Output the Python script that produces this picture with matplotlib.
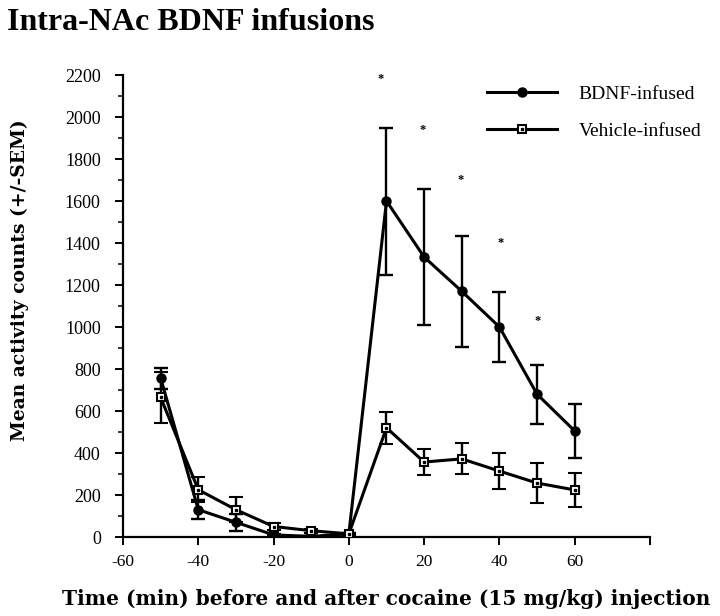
import matplotlib
matplotlib.use("Agg")
import matplotlib.pyplot as plt
from matplotlib.ticker import MultipleLocator, FixedLocator
from matplotlib.lines import Line2D
from matplotlib.legend_handler import HandlerTuple

# ------------------------------
# data
# ------------------------------
time_min = [-50, -40, -30, -20, -10, 0, 10, 20, 30, 40, 50, 60]

bdnf_mean = [757, 130, 70, 10, 3, 15, 1600, 1333, 1170, 1000, 680, 505]
bdnf_sem = [50, 45, 40, 5, 3, 5, 350, 325, 265, 165, 140, 130]

veh_mean = [665, 225, 130, 50, 30, 15, 520, 357, 372, 314, 257, 224]
veh_sem = [120, 60, 60, 15, 10, 5, 76, 62, 74, 85, 95, 83]

# significance stars
star_x = [8.5, 19.5, 29.6, 40.2, 50.1]
star_y = [2180, 1940, 1700, 1400, 1030]

x_ticks = [-60, -40, -20, 0, 20, 40, 60, 80]
x_labels = ["-60", "-40", "-20", "0", "20", "40", "60", ""]

# ------------------------------
# figure
# ------------------------------
fig = plt.figure(figsize=(7.2, 6.16), dpi=100)
ax = fig.add_axes([123 / 720, 1 - 537 / 616, (650 - 123) / 720, (537 - 75) / 616])

lw = 2.2
ax.errorbar(time_min, bdnf_mean, yerr=bdnf_sem, color="black", lw=lw,
            marker="o", ms=6.5, mfc="black", mec="black",
            ecolor="black", elinewidth=1.7, capsize=5, capthick=1.7, zorder=3)
ax.errorbar(time_min, veh_mean, yerr=veh_sem, color="black", lw=lw,
            marker="s", ms=6, mfc="white", mec="black", mew=1.5,
            ecolor="black", elinewidth=1.7, capsize=5, capthick=1.7, zorder=4)
# little dot inside the open squares
ax.plot(time_min, veh_mean, ls="none", marker="s", ms=1.6, color="black", zorder=5)

for sx, sy in zip(star_x, star_y):
    ax.text(sx, sy, "*", ha="center", va="center", fontsize=9,
            family="Liberation Serif", fontweight="bold")

ax.set_xlim(-60, 80)
ax.set_ylim(0, 2200)
ax.xaxis.set_major_locator(FixedLocator(x_ticks))
ax.set_xticklabels(x_labels)
ax.yaxis.set_major_locator(MultipleLocator(200))
ax.yaxis.set_minor_locator(MultipleLocator(100))

for side in ["top", "right"]:
    ax.spines[side].set_visible(False)
for side in ["left", "bottom"]:
    ax.spines[side].set_linewidth(1.6)

ax.tick_params(axis="both", which="major", direction="out", length=6, width=1.4)
ax.tick_params(axis="y", which="minor", direction="out", length=3.5, width=1.1)
ax.tick_params(axis="y", labelsize=13, pad=10)
ax.tick_params(axis="x", labelsize=12.5, pad=6)
for lab in ax.get_xticklabels() + ax.get_yticklabels():
    lab.set_family("Liberation Serif")

ax.set_xlabel("Time (min) before and after cocaine (15 mg/kg) injection",
              family="DejaVu Serif", fontweight="bold", fontsize=14.5, labelpad=14)
ax.set_ylabel("Mean activity counts (+/-SEM)", family="DejaVu Serif",
              fontweight="bold", fontsize=13.5)
ax.yaxis.set_label_coords((29 - 123) / 527, (537 - 280) / 462)

fig.text(7 / 720, 1 - 8 / 616, "Intra-NAc BDNF infusions", ha="left", va="top",
         family="Liberation Serif", fontweight="bold", fontsize=23)

# legend: line + marker only
h_bdnf = Line2D([], [], color="black", lw=lw, marker="o", ms=6.5)
h_veh = Line2D([], [], color="black", lw=lw, marker="s", ms=6, mfc="white", mew=1.5)
h_dot = Line2D([], [], ls="none", marker="s", ms=1.6, color="black")
ax.legend([h_bdnf, (h_veh, h_dot)], ["BDNF-infused", "Vehicle-infused"],
          handler_map={tuple: HandlerTuple(ndivide=1, pad=0)},
          loc="upper left", bbox_to_anchor=(487 / 720, 1 - 85 / 616),
          bbox_transform=fig.transFigure, frameon=False, borderpad=0,
          borderaxespad=0, handlelength=3.6, handletextpad=1.1,
          labelspacing=1.0, prop={"family": "Liberation Serif", "size": 14})

fig.savefig("out.png", dpi=100)
